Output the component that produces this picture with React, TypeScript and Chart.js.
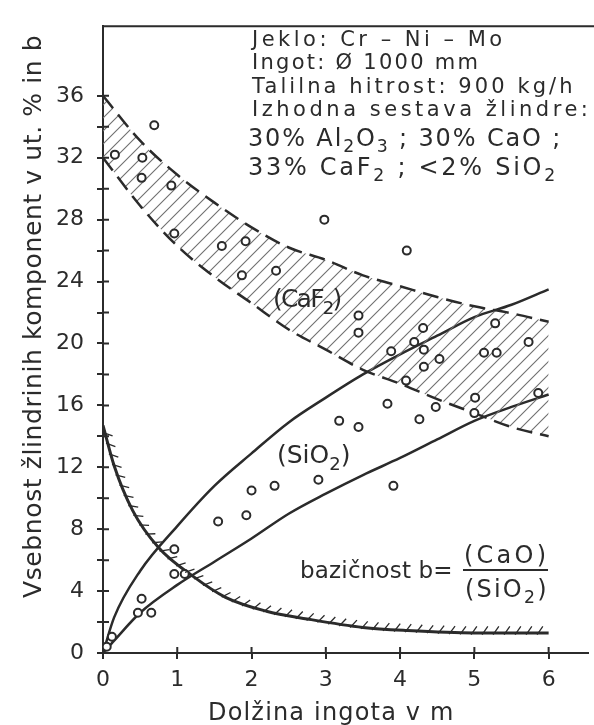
import React, { useEffect, useLayoutEffect, useRef } from 'react';
import { Chart, registerables } from 'chart.js';

Chart.register(...registerables);

const INK = '#2b2b2b';
const FONT = "'DejaVu Sans', sans-serif";

// CaF2 band: upper and lower limit, sampled at the same lengths (m)
const bandX = [0, 0.5, 1, 1.5, 2, 2.5, 3, 3.5, 4, 4.5, 5, 5.5, 6];
const caf2Upper = [36, 33.1, 30.9, 29.1, 27.5, 26.2, 25.4, 24.4, 23.7, 23.0, 22.4, 21.95, 21.4];
const caf2Lower = [32, 28.9, 26.3, 24.3, 22.6, 20.9, 19.6, 18.3, 17.4, 16.4, 15.5, 14.6, 14.0];

// SiO2 band: two solid limits
const sio2X = [0, 0.15, 0.5, 1, 1.5, 2, 2.5, 3, 3.5, 4, 4.5, 5, 5.5, 6];
const sio2Upper = [0, 2.3, 5.3, 8.2, 10.8, 12.9, 14.9, 16.5, 18.0, 19.3, 20.5, 21.7, 22.5, 23.5];
const sio2Lower = [0, 0.8, 2.6, 4.4, 5.9, 7.4, 9.0, 10.3, 11.5, 12.6, 13.8, 15.0, 15.9, 16.7];

// basicity b = (CaO)/(SiO2)
const basX = [0, 0.15, 0.4, 0.75, 1.2, 1.65, 2.2, 2.75, 3.5, 4.1, 5, 6];
const basY = [14.7, 12.1, 9.2, 6.8, 5.0, 3.6, 2.7, 2.2, 1.65, 1.45, 1.3, 1.3];

// measured slag samples
const caf2PtsX = [0.16, 0.53, 0.52, 0.69, 0.92, 0.96, 1.6, 1.92, 1.87, 2.33, 2.98, 4.09, 3.44, 3.44, 4.31, 4.19, 4.32, 4.53, 4.32, 3.88, 5.28, 5.13, 5.3, 5.73];
const caf2PtsY = [32.2, 32.0, 30.7, 34.1, 30.2, 27.1, 26.3, 26.6, 24.4, 24.7, 28.0, 26.0, 21.8, 20.7, 21.0, 20.1, 19.6, 19.0, 18.5, 19.5, 21.3, 19.4, 19.4, 20.1];
const sio2PtsX = [0.05, 0.12, 0.47, 0.52, 0.65, 0.96, 0.96, 1.1, 1.55, 1.93, 2.0, 2.31, 2.9, 3.91, 3.18, 3.44, 3.83, 4.26, 4.48, 4.08, 5.01, 5.0, 5.86];
const sio2PtsY = [0.4, 1.05, 2.6, 3.5, 2.6, 6.7, 5.1, 5.1, 8.5, 8.9, 10.5, 10.8, 11.2, 10.8, 15.0, 14.6, 16.1, 15.1, 15.9, 17.6, 16.5, 15.5, 16.8];

// axis ticks
const xTicks = [0, 1, 2, 3, 4, 5, 6];
const yTicks = [0, 2, 4, 6, 8, 10, 12, 14, 16, 18, 20, 22, 24, 26, 28, 30, 32, 34, 36];
const X_MAX = 6.53;
const Y_MAX = 40.5;

const zip = (xs: number[], ys: number[]) => xs.map((x, i) => ({ x, y: ys[i] }));

// short hatch strokes on the upper side of the basicity curve, plus frame and inner ticks
const decorPlugin = {
  id: 'decor',
  afterDatasetsDraw(chart: any) {
    const { ctx, chartArea } = chart;
    const pts = chart.getDatasetMeta(4).data as any[];
    ctx.save();
    ctx.beginPath();
    ctx.rect(chartArea.left, chartArea.top, chartArea.right - chartArea.left, chartArea.bottom - chartArea.top);
    ctx.clip();
    ctx.strokeStyle = INK;
    ctx.lineWidth = 1.3;
    ctx.beginPath();
    const step = 11;
    const th = (35 * Math.PI) / 180;
    const cs = Math.cos(th);
    const sn = Math.sin(th);
    let next = 8;
    let acc = 0;
    for (let i = 0; i < pts.length - 1; i++) {
      const p = pts[i];
      const q = pts[i + 1];
      const c1x = p.cp2x ?? p.x, c1y = p.cp2y ?? p.y;
      const c2x = q.cp1x ?? q.x, c2y = q.cp1y ?? q.y;
      let px = p.x, py = p.y;
      for (let k = 1; k <= 40; k++) {
        const t = k / 40, mt = 1 - t;
        const x = mt * mt * mt * p.x + 3 * mt * mt * t * c1x + 3 * mt * t * t * c2x + t * t * t * q.x;
        const y = mt * mt * mt * p.y + 3 * mt * mt * t * c1y + 3 * mt * t * t * c2y + t * t * t * q.y;
        const dx = x - px, dy = y - py;
        const len = Math.hypot(dx, dy);
        if (len > 0) {
          while (acc + len >= next) {
            const f = (next - acc) / len;
            const hx = px + dx * f, hy = py + dy * f;
            const ux = dx / len, uy = dy / len;
            const nx = uy, ny = -ux;
            const tx = nx * cs + ux * sn, ty = ny * cs + uy * sn;
            ctx.moveTo(hx - tx * 2, hy - ty * 2);
            ctx.lineTo(hx + tx * 8, hy + ty * 8);
            next += step;
          }
        }
        acc += len;
        px = x;
        py = y;
      }
    }
    ctx.stroke();
    ctx.restore();
  },
  afterDraw(chart: any) {
    const { ctx, chartArea, scales } = chart;
    ctx.save();
    ctx.strokeStyle = INK;
    ctx.lineWidth = 2;
    ctx.beginPath();
    ctx.moveTo(chartArea.left - 1, chartArea.top);
    ctx.lineTo(chart.width, chartArea.top);
    xTicks.slice(1).forEach((v) => {
      const px = scales.x.getPixelForValue(v);
      ctx.moveTo(px, chartArea.bottom);
      ctx.lineTo(px, chartArea.bottom - 6);
    });
    yTicks.slice(1).forEach((v) => {
      const py = scales.y.getPixelForValue(v);
      ctx.moveTo(chartArea.left, py);
      ctx.lineTo(chartArea.left + 6, py);
    });
    ctx.stroke();
    ctx.restore();
  },
};

function Sub({ children }: { children: React.ReactNode }) {
  return <span style={{ fontSize: '0.72em', position: 'relative', top: '0.38em' }}>{children}</span>;
}

type FitProps = {
  left: number;
  baseline: number;
  width: number;
  size: number;
  rotate?: boolean;
  children: React.ReactNode;
};

// text spread to a given width; for rotated text, left is the baseline x and baseline is the start y
function FitText({ left, baseline, width, size, rotate, children }: FitProps) {
  const ref = useRef<HTMLSpanElement>(null);
  useLayoutEffect(() => {
    const el = ref.current;
    if (!el) return;
    el.style.letterSpacing = '0px';
    const natural = el.offsetWidth;
    const n = (el.textContent || '').length;
    const ls = n > 1 ? (width - natural) / (n - 1) : 0;
    el.style.letterSpacing = `${ls}px`;
  }, [width]);
  const asc = 0.846 * size;
  const style: React.CSSProperties = rotate
    ? {
        position: 'absolute',
        left: left - asc,
        top: baseline,
        transformOrigin: '0 0',
        transform: 'rotate(-90deg)',
      }
    : { position: 'absolute', left, top: baseline - asc };
  return (
    <span
      ref={ref}
      style={{
        ...style,
        fontFamily: FONT,
        fontSize: size,
        lineHeight: 1,
        whiteSpace: 'pre',
        color: INK,
        display: 'inline-block',
      }}
    >
      {children}
    </span>
  );
}

export default function App() {
  const canvasRef = useRef<HTMLCanvasElement>(null);

  useEffect(() => {
    const canvas = canvasRef.current;
    if (!canvas) return;
    const ctx = canvas.getContext('2d')!;

    const tile = document.createElement('canvas');
    tile.width = 13;
    tile.height = 13;
    const g = tile.getContext('2d')!;
    g.strokeStyle = '#707070';
    g.lineWidth = 1.1;
    g.beginPath();
    g.moveTo(0, 13);
    g.lineTo(13, 0);
    g.moveTo(-2, 2);
    g.lineTo(2, -2);
    g.moveTo(11, 15);
    g.lineTo(15, 11);
    g.stroke();
    const hatch = ctx.createPattern(tile, 'repeat')!;

    const curve = {
      showLine: true,
      pointRadius: 0,
      borderColor: INK,
      cubicInterpolationMode: 'monotone' as const,
      order: 2,
    };
    const marks = {
      showLine: false,
      pointRadius: 4,
      pointBorderWidth: 2,
      pointBorderColor: INK,
      pointBackgroundColor: '#ffffff',
      order: 0,
    };

    const chart = new Chart(ctx, {
      type: 'line',
      data: {
        datasets: [
          { ...curve, label: 'CaF2 max', data: zip(bandX, caf2Upper), borderWidth: 2.5, borderDash: [16, 8], fill: false },
          {
            ...curve,
            label: 'CaF2 min',
            data: zip(bandX, caf2Lower),
            borderWidth: 2.5,
            borderDash: [16, 8],
            fill: '-1',
            backgroundColor: hatch,
          },
          { ...curve, label: 'SiO2 max', data: zip(sio2X, sio2Upper), borderWidth: 2.5, fill: false },
          { ...curve, label: 'SiO2 min', data: zip(sio2X, sio2Lower), borderWidth: 2.5, fill: false },
          { ...curve, label: 'b', data: zip(basX, basY), borderWidth: 3, fill: false },
          { ...marks, label: 'CaF2', data: zip(caf2PtsX, caf2PtsY) },
          { ...marks, label: 'SiO2', data: zip(sio2PtsX, sio2PtsY) },
        ] as any,
      },
      options: {
        animation: false,
        responsive: false,
        maintainAspectRatio: false,
        layout: { padding: { top: 16, left: 0, right: 0, bottom: 0 } },
        plugins: { legend: { display: false }, tooltip: { enabled: false } },
        scales: {
          x: {
            type: 'linear',
            min: 0,
            max: X_MAX,
            afterBuildTicks: (s: any) => {
              s.ticks = xTicks.map((value) => ({ value }));
            },
            afterFit: (s: any) => {
              s.height = 72;
            },
            border: { display: true, color: INK, width: 2 },
            grid: { display: true, drawOnChartArea: false, drawTicks: true, tickLength: 6, color: INK, lineWidth: 2 },
            ticks: {
              color: INK,
              padding: 8,
              maxRotation: 0,
              font: { family: FONT, size: 22 },
              callback: (v: any) => String(v),
            },
          },
          y: {
            type: 'linear',
            min: 0,
            max: Y_MAX,
            afterBuildTicks: (s: any) => {
              s.ticks = yTicks.map((value) => ({ value }));
            },
            afterFit: (s: any) => {
              s.width = 103;
            },
            border: { display: true, color: INK, width: 2 },
            grid: { display: true, drawOnChartArea: false, drawTicks: true, tickLength: 6, color: INK, lineWidth: 2 },
            ticks: {
              color: INK,
              padding: 13,
              font: { family: FONT, size: 22 },
              callback: (v: any) => (Number(v) % 4 === 0 ? String(v) : ''),
            },
          },
        },
      },
      plugins: [decorPlugin],
    });
    return () => chart.destroy();
  }, []);

  return (
    <div
      style={{
        position: 'absolute',
        left: 0,
        top: 0,
        width: 594,
        height: 725,
        background: '#ffffff',
        overflow: 'hidden',
      }}
    >
      <canvas ref={canvasRef} width={594} height={725} style={{ display: 'block' }} />

      <FitText left={252} baseline={47} width={250} size={21}>Jeklo: Cr – Ni – Mo</FitText>
      <FitText left={252} baseline={70} width={226} size={21}>Ingot: Ø 1000 mm</FitText>
      <FitText left={252} baseline={94} width={321} size={21}>Talilna hitrost: 900 kg/h</FitText>
      <FitText left={252} baseline={117} width={336} size={21}>Izhodna sestava žlindre:</FitText>
      <FitText left={248} baseline={146} width={312} size={24}>
        30% Al<Sub>2</Sub>O<Sub>3</Sub> ; 30% CaO ;
      </FitText>
      <FitText left={248} baseline={175} width={307} size={24}>
        33% CaF<Sub>2</Sub> ; &lt;2% SiO<Sub>2</Sub>
      </FitText>

      <FitText left={273} baseline={307} width={69} size={25}>
        (CaF<Sub>2</Sub>)
      </FitText>
      <FitText left={277} baseline={463} width={73} size={25}>
        (SiO<Sub>2</Sub>)
      </FitText>

      <FitText left={300} baseline={578} width={153} size={23}>bazičnost b=</FitText>
      <FitText left={464} baseline={563} width={82} size={24}>(CaO)</FitText>
      <div style={{ position: 'absolute', left: 463, top: 569, width: 85, height: 2, background: INK }} />
      <FitText left={465} baseline={597} width={82} size={24}>
        (SiO<Sub>2</Sub>)
      </FitText>

      <FitText left={208} baseline={720} width={245} size={24}>Dolžina ingota v m</FitText>
      <FitText left={41} baseline={598} width={563} size={25} rotate>
        Vsebnost žlindrinih komponent v ut. % in b
      </FitText>
    </div>
  );
}
